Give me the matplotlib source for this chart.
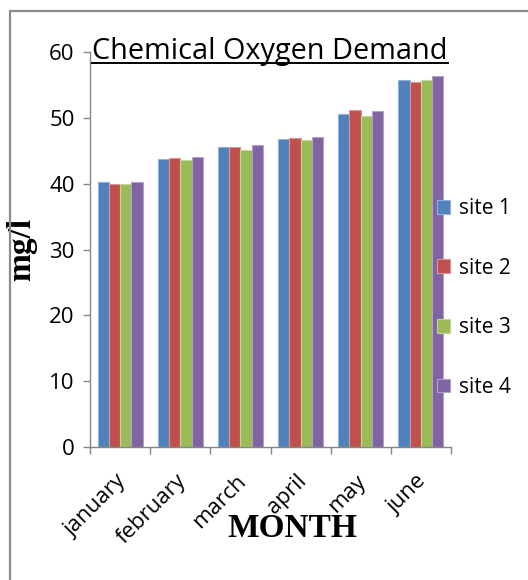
import matplotlib
matplotlib.use("Agg")
import matplotlib.pyplot as plt
import matplotlib.transforms as mtransforms
import numpy as np
from matplotlib.lines import Line2D
from matplotlib.patches import Rectangle

# Monthly chemical oxygen demand (mg/l) at four sampling sites
months = ["january", "february", "march", "april", "may", "june"]
sites = ["site 1", "site 2", "site 3", "site 4"]
site1 = [40.2, 43.7, 45.6, 46.8, 50.6, 55.7]
site2 = [40.0, 43.9, 45.6, 46.9, 51.2, 55.4]
site3 = [40.0, 43.6, 45.1, 46.6, 50.3, 55.7]
site4 = [40.2, 44.1, 45.8, 47.1, 51.0, 56.3]
yticks = [0, 10, 20, 30, 40, 50, 60]

series = [site1, site2, site3, site4]
fills = ["#4F81BD", "#C0504D", "#9BBB59", "#8064A2"]
edges = ["#95B3D7", "#D99694", "#C3D69B", "#B3A2C7"]

sans = ["Open Sans", "DejaVu Sans"]
serif = ["Liberation Serif", "DejaVu Serif"]

fig = plt.figure(figsize=(5.28, 5.8), dpi=100)
ax = fig.add_axes([90 / 528, 1 - 447 / 580, 361 / 528, 395 / 580])

# outer chart frame, running off the right and bottom edges
fig.patches.append(Rectangle((9.5 / 528, -0.1), 1.2, 1 - 10.5 / 580 + 0.1,
                             transform=fig.transFigure, fill=False,
                             edgecolor="#8c8c8c", linewidth=1.6, zorder=0))

x = np.arange(len(months))
w = 0.1875
for i, (vals, fc, ec) in enumerate(zip(series, fills, edges)):
    ax.bar(x + (i - 1.5) * w, vals, width=w, color=fc, edgecolor=ec,
           linewidth=0.8, label=sites[i], zorder=2)

ax.set_xlim(-0.5, len(months) - 0.5)
ax.set_ylim(0, 60)
ax.set_yticks(yticks)
ax.set_yticklabels([str(t) for t in yticks], family=sans, fontsize=16)
ax.set_xticks(x)
ax.set_xticklabels(months, family=sans, fontsize=16, rotation=45,
                   ha="right", rotation_mode="anchor")
ax.set_xticks(np.arange(-0.5, len(months)), minor=True)
ax.tick_params(axis="x", which="major", length=0, pad=17)
ax.tick_params(axis="x", which="minor", length=5, color="#868686", width=1)
ax.tick_params(axis="y", length=5, color="#868686", width=1, pad=6)

# nudge the slanted month names slightly left
shift = mtransforms.ScaledTranslation(-5 / 100, 0, fig.dpi_scale_trans)
for lab in ax.get_xticklabels():
    lab.set_transform(lab.get_transform() + shift)

for s in ["top", "right"]:
    ax.spines[s].set_visible(False)
for s in ["left", "bottom"]:
    ax.spines[s].set_color("#868686")
    ax.spines[s].set_linewidth(1)

ax.set_ylabel("mg/l", family=serif, fontsize=24, fontweight="bold")
ax.yaxis.set_label_coords(-0.147, 0.5)
ax.set_xlabel("MONTH", family=serif, fontsize=24, fontweight="bold")
ax.xaxis.set_label_coords(0.56, -0.167)

# underlined chart title
title = fig.text(92 / 528, 1 - 59 / 580, "Chemical Oxygen Demand",
                 family=sans, fontsize=20.8, ha="left", va="baseline")
fig.canvas.draw()
bb = title.get_window_extent()
fig.add_artist(Line2D([bb.x0 / fig.bbox.width, bb.x1 / fig.bbox.width],
                      [1 - 63 / 580, 1 - 63 / 580], transform=fig.transFigure,
                      color="black", linewidth=1.4))

handles, labels = ax.get_legend_handles_labels()
leg = fig.legend(handles, labels, loc="center left",
                 bbox_to_anchor=(418 / 528, 1 - 298 / 580),
                 frameon=False, prop={"family": sans, "size": 15},
                 handlelength=0.65, handleheight=0.65, handletextpad=0.4,
                 labelspacing=1.85)

fig.savefig("out.png", dpi=100)
